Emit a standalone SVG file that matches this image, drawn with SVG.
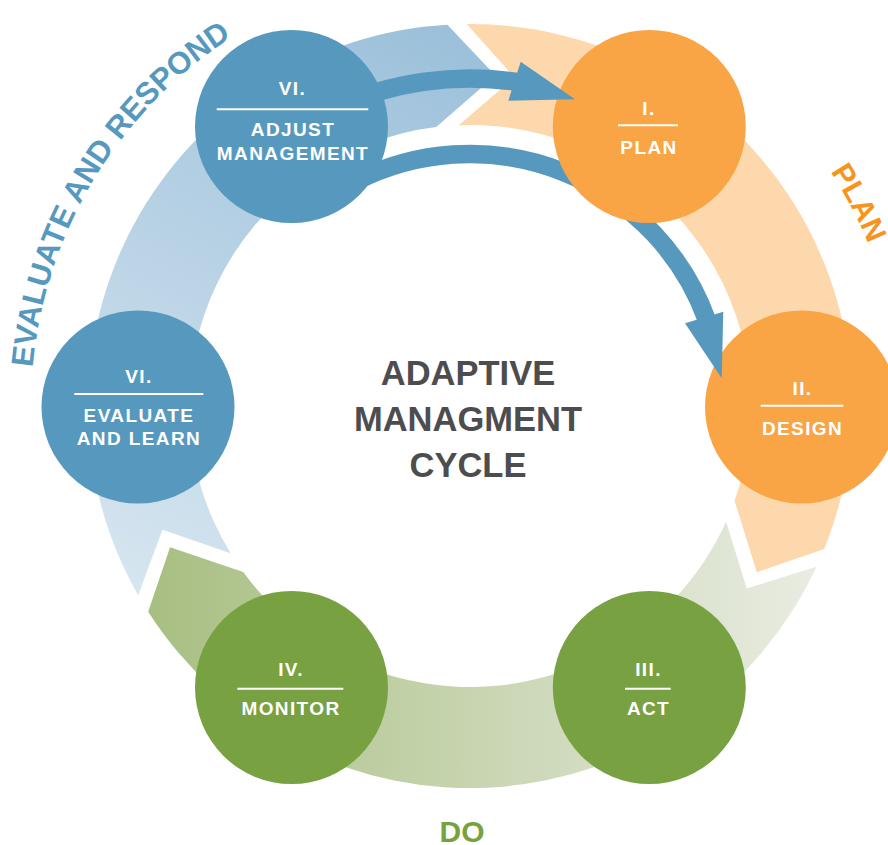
<svg xmlns="http://www.w3.org/2000/svg" width="888" height="845" viewBox="0 0 888 845">
<defs>
<linearGradient id="gBlue" gradientUnits="userSpaceOnUse" x1="430" y1="20" x2="130" y2="600">
<stop offset="0" stop-color="#9cc0da"/><stop offset="1" stop-color="#d7e6f0"/>
</linearGradient>
<linearGradient id="gGreen" gradientUnits="userSpaceOnUse" x1="140" y1="0" x2="830" y2="0">
<stop offset="0" stop-color="#a7be80"/><stop offset="1" stop-color="#eaede4"/>
</linearGradient>
<path id="arcEval" d="M36.29,473.92 A439,439 0 0 1 327.80,-9.33"/>
<path id="arcPlan" d="M759.95,88.46 A430,430 0 0 1 896.22,349.13"/>
</defs>
<style>
.blue{fill:#5799be}
.orange{fill:#f9a546}
.green{fill:#78a142}
.shaft{fill:none;stroke:#5799be;stroke-width:18.5}
.lbl{font-family:"Liberation Sans",Arial,sans-serif;font-weight:bold;font-size:19px;fill:#ffffff;text-anchor:middle;letter-spacing:1.4px}
.div{stroke:#ffffff;stroke-width:2}
.title{font-family:"Liberation Sans",Arial,sans-serif;font-weight:bold;font-size:34.5px;fill:#4d4d4f;text-anchor:middle}
.phase{font-family:"Liberation Sans",Arial,sans-serif;font-weight:bold;text-anchor:middle}
</style>
<rect width="888" height="845" fill="#ffffff"/>
<g id="ring">
<path id="band-plan" fill="#fed8ad" d="M466.67,24.02 A382,382 0 0 1 824.18,549.10 L756.80,572.25 L734.55,500.73 A281,281 0 0 0 458.72,125.23 L514.42,77.49 Z"/>
<path id="band-do" fill="url(#gGreen)" d="M816.49,566.85 A382,382 0 0 1 148.19,611.81 L170.05,547.15 L243.24,571.96 A281,281 0 0 0 726.10,521.63 L746.75,588.48 Z"/>
<path id="band-eval" fill="url(#gBlue)" d="M138.18,595.27 A382,382 0 0 1 447.34,24.67 L495.43,75.48 L436.24,127.03 A281,281 0 0 0 230.66,553.24 L162.42,529.65 Z"/>
</g>
<g id="connectors">
<path class="shaft" d="M331.59,109.18 A327.5,327.5 0 0 1 518.41,82.10"/>
<path class="shaft" d="M355.59,181.47 A252,252 0 0 1 706.80,319.81"/>
</g>
<g id="node-adjust">
<circle class="blue" cx="291.5" cy="126.5" r="96.5"/>
<text class="lbl" x="292.5" y="95">VI.</text>
<line class="div" x1="216.7" y1="109.3" x2="368.3" y2="109.3"/>
<text class="lbl" x="293" y="136">ADJUST</text>
<text class="lbl" x="293" y="160">MANAGEMENT</text>
</g>
<g id="node-plan">
<circle class="orange" cx="649.3" cy="126.5" r="96.5"/>
<text class="lbl" x="649" y="115">I.</text>
<line class="div" x1="618" y1="125.3" x2="678" y2="125.3"/>
<text class="lbl" x="649" y="154">PLAN</text>
</g>
<g id="node-design">
<circle class="orange" cx="801.5" cy="407" r="96.5"/>
<text class="lbl" x="802.5" y="395">II.</text>
<line class="div" x1="760.7" y1="405.7" x2="843.3" y2="405.7"/>
<text class="lbl" x="802.5" y="434.7">DESIGN</text>
</g>
<g id="node-act">
<circle class="green" cx="649.3" cy="687.5" r="96.5"/>
<text class="lbl" x="648.5" y="676">III.</text>
<line class="div" x1="625" y1="688.7" x2="670.7" y2="688.7"/>
<text class="lbl" x="648.5" y="714.7">ACT</text>
</g>
<g id="node-monitor">
<circle class="green" cx="291.5" cy="687.5" r="96.5"/>
<text class="lbl" x="291" y="676">IV.</text>
<line class="div" x1="237.3" y1="688.7" x2="343.3" y2="688.7"/>
<text class="lbl" x="291" y="714.7">MONITOR</text>
</g>
<g id="node-evaluate">
<circle class="blue" cx="138" cy="407" r="96.5"/>
<text class="lbl" x="139" y="383.3">VI.</text>
<line class="div" x1="74.3" y1="394" x2="203.3" y2="394"/>
<text class="lbl" x="139" y="421.7">EVALUATE</text>
<text class="lbl" x="139" y="445">AND LEARN</text>
</g>
<g id="arrowheads">
<polygon class="blue" points="520.7,61.7 575,99.3 508.3,100.7"/>
<polygon class="blue" points="685,323.3 723.3,311.7 721.7,378.3"/>
</g>
<g id="labels">
<text class="title" x="468" y="385">ADAPTIVE</text>
<text class="title" x="468" y="430.7">MANAGMENT</text>
<text class="title" x="468" y="476.5">CYCLE</text>
<text class="phase" font-size="31" fill="#5799be"><textPath href="#arcEval" startOffset="50%">EVALUATE AND RESPOND</textPath></text>
<text class="phase" font-size="30" fill="#f7941d"><textPath href="#arcPlan" startOffset="50%">PLAN</textPath></text>
<text class="phase" font-size="30" fill="#78a142" x="462" y="842">DO</text>
</g>
</svg>
